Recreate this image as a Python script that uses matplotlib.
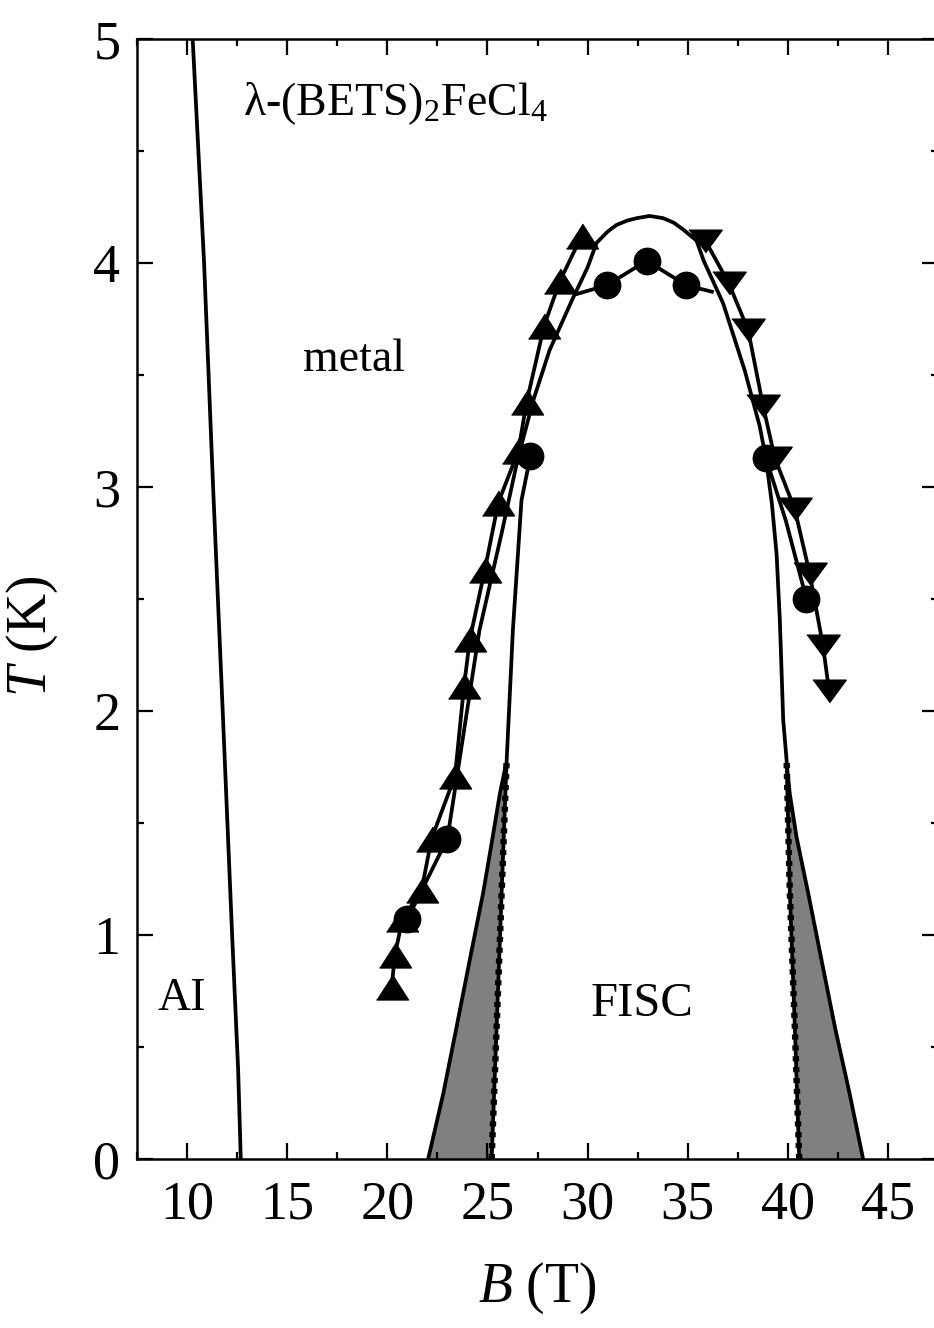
import numpy as np
import matplotlib
matplotlib.use('Agg')
import matplotlib.pyplot as plt
from matplotlib.ticker import MultipleLocator

plt.rcParams['font.family'] = ['Liberation Serif', 'DejaVu Serif']
plt.rcParams['mathtext.fontset'] = 'custom'
plt.rcParams['mathtext.rm'] = 'Liberation Serif'
plt.rcParams['mathtext.it'] = 'Liberation Serif:italic'

# measured points (B in tesla, T in kelvin)
up_B = [20.22, 20.38, 20.75, 21.71, 22.21, 23.38, 23.83, 24.12, 24.87, 25.54, 26.54, 26.96, 27.83, 28.62, 29.70]
up_T = [0.77, 0.91, 1.07, 1.20, 1.43, 1.71, 2.11, 2.32, 2.63, 2.93, 3.16, 3.38, 3.72, 3.92, 4.12]

down_B = [35.88, 37.05, 38.02, 38.77, 39.35, 40.35, 41.10, 41.76, 42.06]
down_T = [4.10, 3.91, 3.70, 3.36, 3.13, 2.90, 2.61, 2.29, 2.09]

circ_B = [21.0, 23.0, 27.15, 30.95, 32.95, 34.94, 38.9, 40.93]
circ_T = [1.07, 1.43, 3.14, 3.90, 4.01, 3.90, 3.13, 2.50]

# guide curves
arch_B = [21.0, 23.0, 24.6, 25.7, 26.5, 27.3, 28.1, 29.2, 30.0, 30.45, 31.0, 31.45, 32.0, 32.45,
          33.1, 33.78, 34.3, 34.77, 35.44, 35.8, 36.77, 37.85, 38.6, 38.9, 39.9, 40.93]
arch_T = [1.07, 1.43, 2.36, 2.79, 3.12, 3.39, 3.61, 3.83, 3.98, 4.09, 4.14, 4.17, 4.19, 4.20,
          4.21, 4.20, 4.18, 4.15, 4.10, 4.01, 3.82, 3.52, 3.27, 3.13, 2.85, 2.50]

top_B = [29.4, 30.95, 32.95, 34.94, 36.3]
top_T = [3.86, 3.90, 4.01, 3.90, 3.87]

domeL_B = [25.21, 25.46, 25.71, 25.96, 26.27, 26.7, 27.15]
domeL_T = [0.0, 0.59, 1.19, 1.78, 2.36, 2.94, 3.14]
domeR_B = [40.57, 40.35, 40.10, 39.94, 39.77, 39.6, 39.44, 39.2, 38.9]
domeR_T = [0.0, 0.59, 1.19, 1.78, 1.96, 2.41, 2.70, 2.93, 3.13]

outL_B = [22.04, 22.79, 23.46, 24.12, 24.79, 25.21, 25.62, 25.92]
outL_T = [0.0, 0.29, 0.59, 0.89, 1.19, 1.41, 1.63, 1.76]
outR_B = [43.76, 43.09, 42.35, 41.68, 41.01, 40.43, 40.10, 39.95]
outR_T = [0.0, 0.29, 0.59, 0.89, 1.19, 1.44, 1.63, 1.76]

ai_B = [10.28, 10.85, 11.30, 11.78, 12.25, 12.55, 12.65, 12.68]
ai_T = [5.0, 4.0, 3.0, 2.0, 1.0, 0.4, 0.1, 0.0]

W, H = 934, 1328
fig = plt.figure(figsize=(W / 100, H / 100), dpi=100)
ax = fig.add_axes([137 / W, 1 - 1159 / H, 801 / W, 1120 / H])

lw = 2.7
# gray regions between the outer boundary and the dome
tg = np.linspace(0, 1.76, 60)
ax.fill_betweenx(tg, np.interp(tg, outL_T, outL_B), np.interp(tg, domeL_T, domeL_B),
                 color='#808080', lw=0)
ax.fill_betweenx(tg, np.interp(tg, domeR_T, domeR_B), np.interp(tg, outR_T, outR_B),
                 color='#808080', lw=0)

for bb, tt in [(outL_B, outL_T), (outR_B, outR_T), (domeL_B, domeL_T), (domeR_B, domeR_T),
               (arch_B, arch_T), (top_B, top_T), (up_B, up_T), (down_B, down_T), (ai_B, ai_T)]:
    ax.plot(bb, tt, color='black', lw=lw, solid_joinstyle='round', solid_capstyle='butt')

# jagged dashed look on the lower part of the dome
ax.plot(domeL_B[:4], domeL_T[:4], color='black', lw=4.6, ls=(0, (0.8, 0.9)))
ax.plot(domeR_B[:4], domeR_T[:4], color='black', lw=4.6, ls=(0, (0.8, 0.9)))

up_m = [(-1, -0.78), (1, -0.78), (0, 0.78)]
dn_m = [(-1, 0.68), (1, 0.68), (0, -0.68)]
ax.plot(up_B, up_T, ls='none', marker=up_m, ms=23, color='black')
ax.plot(down_B, down_T, ls='none', marker=dn_m, ms=24, color='black')
ax.plot(circ_B, circ_T, ls='none', marker='o', ms=19, color='black')

ax.set_xlim(7.5, 47.5)
ax.set_ylim(0, 5)
ax.xaxis.set_major_locator(MultipleLocator(5))
ax.xaxis.set_minor_locator(MultipleLocator(2.5))
ax.yaxis.set_major_locator(MultipleLocator(1))
ax.yaxis.set_minor_locator(MultipleLocator(0.5))
ax.tick_params(which='both', direction='in', top=True, right=True, width=1.6, labelsize=39)
ax.tick_params(which='major', length=11.5)
ax.tick_params(which='minor', length=5)
ax.tick_params(axis='x', which='major', pad=15)
ax.tick_params(axis='y', which='major', pad=12)
for sp in ax.spines.values():
    sp.set_linewidth(1.8)

ax.set_xlabel('$B$ (T)', fontsize=40)
ax.set_ylabel('$T$ (K)', fontsize=40)
ax.xaxis.set_label_coords(0.5, -0.091)
ax.yaxis.set_label_coords(-0.096, 0.467)

ax.text(12.79, 4.66, r'$\mathrm{\lambda}$-(BETS)$_2$FeCl$_4$', fontsize=33, va='baseline')
ax.text(15.79, 3.52, 'metal', fontsize=33, va='baseline')
ax.text(8.5, 0.665, 'AI', fontsize=33, va='baseline')
ax.text(30.17, 0.64, 'FISC', fontsize=35, va='baseline')

fig.savefig('out.png', dpi=100)
